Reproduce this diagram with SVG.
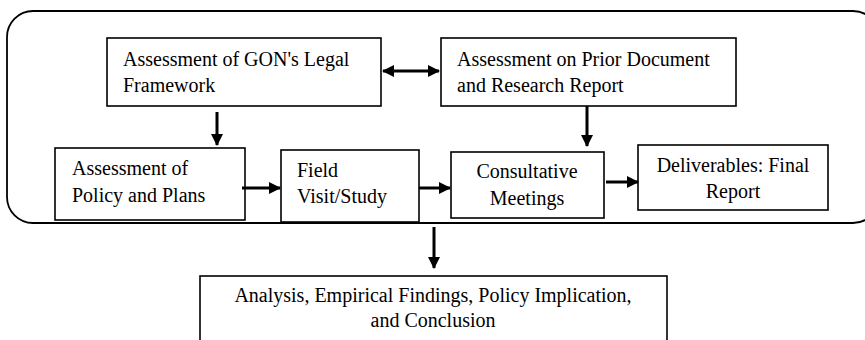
<svg xmlns="http://www.w3.org/2000/svg" width="865" height="340" viewBox="0 0 865 340">
<style>
.box{fill:#fff;stroke:#000;stroke-width:1.6}
.outer{fill:none;stroke:#000;stroke-width:1.8}
text{font-family:"Liberation Serif","Times New Roman",serif;font-size:20px;fill:#000}
.c{text-anchor:middle}
.conn{stroke:#000;stroke-width:3;fill:none}
</style>
<defs>
<marker id="ah" markerUnits="userSpaceOnUse" markerWidth="12" markerHeight="12" refX="11" refY="6" orient="auto-start-reverse">
<path d="M0,0 L12,6 L0,12 z" fill="#000"/>
</marker>
</defs>
<rect class="outer" x="7" y="11" width="872" height="212" rx="26" ry="26"/>
<g id="legal">
<rect class="box" x="107" y="38" width="274" height="68"/>
<text x="123" y="66">Assessment of GON's Legal</text>
<text x="123" y="92">Framework</text>
</g>
<g id="prior">
<rect class="box" x="441" y="38" width="295" height="68"/>
<text x="457" y="66">Assessment on Prior Document</text>
<text x="457" y="92">and Research Report</text>
</g>
<g id="policy">
<rect class="box" x="55" y="148" width="190" height="72"/>
<text x="72" y="175">Assessment of</text>
<text x="72" y="202">Policy and Plans</text>
</g>
<g id="field">
<rect class="box" x="281" y="150" width="138" height="72"/>
<text x="297" y="177">Field</text>
<text x="297" y="203">Visit/Study</text>
</g>
<g id="consult">
<rect class="box" x="451" y="152" width="153" height="66"/>
<text class="c" x="527" y="178">Consultative</text>
<text class="c" x="527" y="205">Meetings</text>
</g>
<g id="deliver">
<rect class="box" x="638" y="145" width="190" height="65"/>
<text class="c" x="733" y="172">Deliverables: Final</text>
<text class="c" x="733" y="198">Report</text>
</g>
<g id="analysis">
<rect class="box" x="200" y="276" width="467" height="80"/>
<text class="c" x="433" y="302">Analysis, Empirical Findings, Policy Implication,</text>
<text class="c" x="433" y="327">and Conclusion</text>
</g>
<g id="connectors">
<line class="conn" x1="383" y1="71" x2="439" y2="71" marker-start="url(#ah)" marker-end="url(#ah)"/>
<line class="conn" x1="217" y1="112" x2="217" y2="145" marker-end="url(#ah)"/>
<line class="conn" x1="587" y1="106" x2="587" y2="146" marker-end="url(#ah)"/>
<line class="conn" x1="242" y1="188" x2="280" y2="188" marker-end="url(#ah)"/>
<line class="conn" x1="419" y1="188" x2="450" y2="188" marker-end="url(#ah)"/>
<line class="conn" x1="606" y1="182" x2="638" y2="182" marker-end="url(#ah)"/>
<line class="conn" x1="434" y1="227" x2="434" y2="268" marker-end="url(#ah)"/>
</g>
</svg>
